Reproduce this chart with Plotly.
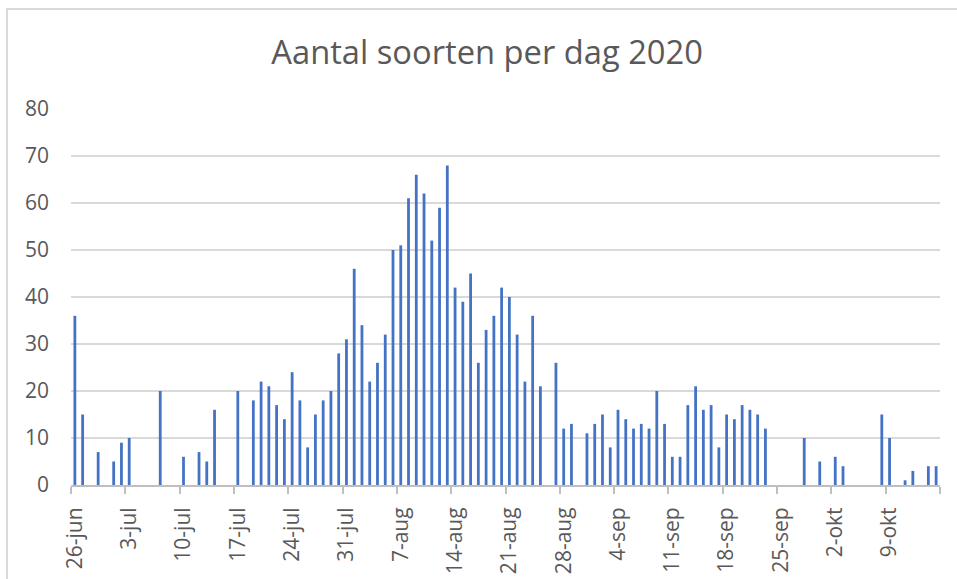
import pandas as pd
import plotly.graph_objects as go

start_date = "2020-06-26"
n_days = 112
dates = pd.date_range(start_date, periods=n_days, freq="D")

species_per_day = [
    36, 15, 0, 7, 0, 5, 9, 10, 0, 0,
    0, 20, 0, 0, 6, 0, 7, 5, 16, 0,
    0, 20, 0, 18, 22, 21, 17, 14, 24, 18,
    8, 15, 18, 20, 28, 31, 46, 34, 22, 26,
    32, 50, 51, 61, 66, 62, 52, 59, 68, 42,
    39, 45, 26, 33, 36, 42, 40, 32, 22, 36,
    21, 0, 26, 12, 13, 0, 11, 13, 15, 8,
    16, 14, 12, 13, 12, 20, 13, 6, 6, 17,
    21, 16, 17, 8, 15, 14, 17, 16, 15, 12,
    0, 0, 0, 0, 10, 0, 5, 0, 6, 4,
    0, 0, 0, 0, 15, 10, 0, 1, 3, 0,
    4, 4,
]

tick_labels = ["26-jun", "3-jul", "10-jul", "17-jul", "24-jul", "31-jul", "7-aug",
               "14-aug", "21-aug", "28-aug", "4-sep", "11-sep", "18-sep", "25-sep",
               "2-okt", "9-okt"]
tick_dates = dates[::7]

half = pd.Timedelta(hours=12)
range_start = dates[0] - half
range_end = dates[-1] + half
boundary_ticks = [d - half for d in tick_dates] + [range_end]

TEXT = "#595959"
GRID = "#d9d9d9"
AXIS = "#bfbfbf"
FONT = "Open Sans"

ML, MR, MT, MB = 71, 17, 109, 94
PW, PH = 957 - ML - MR, 579 - MT - MB

fig = go.Figure()
fig.add_trace(go.Bar(
    x=dates, y=species_per_day,
    marker=dict(color="#4472C4", line=dict(width=0)),
    hoverinfo="x+y",
))

fig.update_layout(
    width=957, height=579,
    paper_bgcolor="white", plot_bgcolor="white",
    margin=dict(l=ML, r=MR, t=MT, b=MB, pad=0, autoexpand=False),
    bargap=0.64,
    showlegend=False,
    font=dict(family=FONT, color=TEXT),
    title=dict(text="Aantal soorten per dag 2020", x=0.509, xanchor="center",
               y=0.91, yanchor="middle", xref="container", yref="container",
               font=dict(family=FONT, size=32.7, color=TEXT), automargin=False),
    xaxis=dict(
        type="date", range=[range_start, range_end], automargin=False,
        tickmode="array", tickvals=list(tick_dates), ticktext=tick_labels,
        tickangle=-90, tickfont=dict(size=21, color=TEXT, family=FONT),
        ticks="", showgrid=False, zeroline=False,
        showline=True, linecolor=AXIS, linewidth=2,
        ticklabelstandoff=12,
        minor=dict(tickmode="array", tickvals=boundary_ticks, ticks="outside",
                   ticklen=7, tickwidth=2, tickcolor=AXIS, showgrid=False),
    ),
    yaxis=dict(
        range=[0, 80], dtick=10, tick0=0, automargin=False,
        tickfont=dict(size=21, color=TEXT, family=FONT),
        showgrid=True, gridcolor=GRID, gridwidth=2,
        zeroline=False, showline=False, ticks="",
        ticklabelstandoff=21,
    ),
    shapes=[dict(type="rect", xref="paper", yref="paper",
                 x0=(7 - ML) / PW, x1=1.2, y0=-0.5, y1=1 + (MT - 9) / PH,
                 line=dict(color=GRID, width=2), fillcolor="rgba(0,0,0,0)",
                 layer="below")],
)

fig.write_html(
    "out.html",
    config={"displayModeBar": False},
    post_script="document.body.style.margin='0';document.body.style.overflow='hidden';",
)
